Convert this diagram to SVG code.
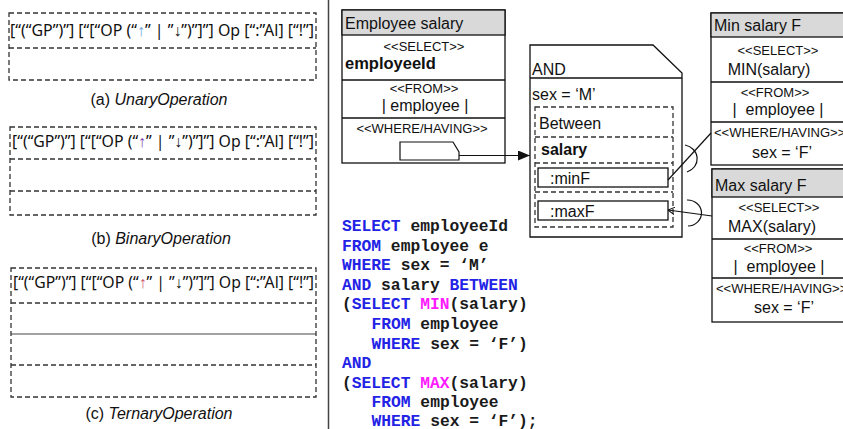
<svg xmlns="http://www.w3.org/2000/svg" width="843" height="429" viewBox="0 0 843 429">
  <style>
    .sans { font-family: "Liberation Sans", Arial, sans-serif; fill: #111; }
    .tmpl { font-family: "Noto Sans", "Liberation Sans", sans-serif; font-size: 16px; fill: #111; }
    .dash { fill: none; stroke: #333; stroke-width: 1.3; stroke-dasharray: 5 3; }
    .box { fill: #fff; stroke: #111; stroke-width: 1.3; }
    .head { fill: #d9d9d9; stroke: #111; stroke-width: 1.3; }
    .sep { stroke: #111; stroke-width: 1.3; }
    .stereo { font-size: 13px; text-anchor: middle; }
    .t16 { font-size: 16px; }
    .code { font-family: "Liberation Mono", "Courier New", monospace; font-weight: bold; font-size: 16.3px; fill: #1a1a1a; }
    .kw { fill: #2323e6; }
    .fn { fill: #ff1aff; }
    .wire { fill: none; stroke: #111; stroke-width: 1.2; }
  </style>
  <defs>
    <marker id="arrow" markerWidth="12" markerHeight="10" refX="12" refY="5" orient="auto" markerUnits="userSpaceOnUse">
      <path d="M0,0 L12,5 L0,10 Z" fill="#111"/>
    </marker>
    <marker id="open" markerWidth="7" markerHeight="8" refX="7" refY="4" orient="auto" markerUnits="userSpaceOnUse">
      <path d="M0,0 L7,4 L0,8" fill="none" stroke="#111" stroke-width="1"/>
    </marker>
  </defs>

  <rect width="843" height="429" fill="#fff"/>

  <!-- (a) unary operation template -->
  <g id="unary-operation">
    <rect x="9" y="13" width="307" height="67" class="dash"/>
    <line x1="9" y1="48" x2="316" y2="48" class="dash"/>
    <text x="10" y="36" class="tmpl" textLength="304" lengthAdjust="spacingAndGlyphs">[“(“GP”)”] [“[“OP (“<tspan fill="#6a9fd8">↑</tspan>” | ”↓”)”]”] Op [“:”Al] [“!”]</text>
    <text x="159" y="105" class="sans t16" text-anchor="middle">(a) <tspan font-style="italic">UnaryOperation</tspan></text>
  </g>

  <!-- (b) binary operation template -->
  <g id="binary-operation">
    <rect x="10" y="127" width="306" height="88" class="dash"/>
    <line x1="10" y1="159" x2="316" y2="159" class="dash"/>
    <line x1="10" y1="191" x2="316" y2="191" class="dash"/>
    <text x="12" y="147" class="tmpl" textLength="302" lengthAdjust="spacingAndGlyphs">[“(“GP”)”] [“[“OP (“<tspan fill="#7b3fb0">↑</tspan>” | ”↓”)”]”] Op [“:”Al] [“!”]</text>
    <text x="161" y="244" class="sans t16" text-anchor="middle">(b) <tspan font-style="italic">BinaryOperation</tspan></text>
  </g>

  <!-- (c) ternary operation template -->
  <g id="ternary-operation">
    <rect x="11" y="268" width="305" height="129" class="dash"/>
    <line x1="11" y1="303" x2="316" y2="303" class="dash"/>
    <line x1="11" y1="334" x2="316" y2="334" stroke="#444" stroke-width="1.1"/>
    <line x1="11" y1="365" x2="316" y2="365" class="dash"/>
    <text x="13" y="288" class="tmpl" textLength="301" lengthAdjust="spacingAndGlyphs">[“(“GP”)”] [“[“OP (“<tspan fill="#c8556a">↑</tspan>” | ”↓”)”]”] Op [“:”Al] [“!”]</text>
    <text x="159" y="419" class="sans t16" text-anchor="middle">(c) <tspan font-style="italic">TernaryOperation</tspan></text>
  </g>

  <!-- panel divider -->
  <line x1="328.5" y1="0" x2="328.5" y2="429" stroke="#444" stroke-width="1.5"/>

  <!-- main query block -->
  <g id="employee-salary">
    <rect x="342" y="10" width="163" height="153" class="box"/>
    <rect x="342" y="10" width="163" height="25" class="head"/>
    <line x1="342" y1="80" x2="505" y2="80" class="sep"/>
    <line x1="342" y1="118" x2="505" y2="118" class="sep"/>
    <text x="345" y="29" class="sans t16">Employee salary</text>
    <text x="424" y="51" class="sans stereo">&lt;&lt;SELECT&gt;&gt;</text>
    <text x="345" y="69" class="sans" font-size="16.5" font-weight="bold">employeeId</text>
    <text x="424" y="93" class="sans stereo">&lt;&lt;FROM&gt;&gt;</text>
    <text x="425" y="111" class="sans t16" text-anchor="middle">| employee |</text>
    <text x="422" y="133" class="sans stereo">&lt;&lt;WHERE/HAVING&gt;&gt;</text>
    <path d="M400,142 H453 L459,152 V160 H400 Z" fill="#fff" stroke="#111" stroke-width="1.2"/>
  </g>

  <!-- AND condition block -->
  <g id="and-condition">
    <path d="M530,45 H653 L682,73 V237 H530 Z" class="box"/>
    <line x1="530" y1="78" x2="682" y2="78" class="sep"/>
    <text x="532" y="75" class="sans t16">AND</text>
    <text x="532" y="100" class="sans t16">sex = ‘M’</text>
    <rect x="535" y="107" width="138" height="120" class="dash"/>
    <line x1="535" y1="137" x2="673" y2="137" class="dash"/>
    <line x1="535" y1="163" x2="673" y2="163" class="dash"/>
    <line x1="535" y1="192" x2="673" y2="192" class="dash"/>
    <text x="539" y="129" class="sans t16" fill="#333">Between</text>
    <text x="541" y="155" class="sans t16" font-weight="bold">salary</text>
    <rect x="538" y="168" width="130" height="19" class="box"/>
    <text x="550" y="184" class="sans t16">:minF</text>
    <rect x="538" y="201" width="130" height="19" class="box"/>
    <text x="550" y="217" class="sans t16">:maxF</text>
  </g>

  <!-- MIN sub-query -->
  <g id="min-salary-f">
    <rect x="711" y="13" width="150" height="152" class="box"/>
    <rect x="711" y="13" width="150" height="24" class="head"/>
    <line x1="711" y1="82" x2="861" y2="82" class="sep"/>
    <line x1="711" y1="122" x2="861" y2="122" class="sep"/>
    <text x="714" y="31" class="sans t16">Min salary F</text>
    <text x="778" y="55" class="sans stereo">&lt;&lt;SELECT&gt;&gt;</text>
    <text x="769" y="75" class="sans t16" text-anchor="middle">MIN(salary)</text>
    <text x="775" y="97" class="sans stereo">&lt;&lt;FROM&gt;&gt;</text>
    <text x="778" y="115" class="sans t16" text-anchor="middle" xml:space="preserve">|  employee |</text>
    <text x="714" y="137" class="sans" font-size="13">&lt;&lt;WHERE/HAVING&gt;&gt;</text>
    <text x="782" y="158" class="sans t16" text-anchor="middle">sex = ‘F’</text>
  </g>

  <!-- MAX sub-query -->
  <g id="max-salary-f">
    <rect x="712" y="169" width="150" height="153" class="box"/>
    <rect x="712" y="169" width="150" height="28" class="head"/>
    <line x1="712" y1="239" x2="862" y2="239" class="sep"/>
    <line x1="712" y1="278" x2="862" y2="278" class="sep"/>
    <text x="715" y="191" class="sans t16">Max salary F</text>
    <text x="779" y="212" class="sans stereo">&lt;&lt;SELECT&gt;&gt;</text>
    <text x="772" y="232" class="sans t16" text-anchor="middle">MAX(salary)</text>
    <text x="778" y="253" class="sans stereo">&lt;&lt;FROM&gt;&gt;</text>
    <text x="779" y="272" class="sans t16" text-anchor="middle" xml:space="preserve">|  employee |</text>
    <text x="716" y="293" class="sans" font-size="13">&lt;&lt;WHERE/HAVING&gt;&gt;</text>
    <text x="784" y="313" class="sans t16" text-anchor="middle">sex = ‘F’</text>
  </g>

  <!-- connectors -->
  <g id="connectors">
    <line x1="459" y1="155.5" x2="530" y2="155.5" class="wire" marker-end="url(#arrow)"/>
    <line x1="668" y1="180" x2="711" y2="133" class="wire"/>
    <line x1="712" y1="216" x2="668" y2="210" class="wire" marker-end="url(#open)"/>
    <path d="M685,145 A15,14 0 0 1 687,172" class="wire"/>
    <path d="M687,200 A14,13 0 0 1 688,226" class="wire"/>
  </g>

  <!-- SQL listing -->
  <g id="sql-listing" class="code">
    <text x="342" y="231"><tspan class="kw">SELECT</tspan> employeeId</text>
    <text x="342" y="251"><tspan class="kw">FROM</tspan> employee e</text>
    <text x="342" y="270"><tspan class="kw">WHERE</tspan> sex = ‘M’</text>
    <text x="342" y="290"><tspan class="kw">AND</tspan> salary <tspan class="kw">BETWEEN</tspan></text>
    <text x="342" y="309">(<tspan class="kw">SELECT</tspan> <tspan class="fn">MIN</tspan>(salary)</text>
    <text x="371.5" y="329"><tspan class="kw">FROM</tspan> employee</text>
    <text x="371.5" y="349"><tspan class="kw">WHERE</tspan> sex = ‘F’)</text>
    <text x="342" y="368"><tspan class="kw">AND</tspan></text>
    <text x="342" y="388">(<tspan class="kw">SELECT</tspan> <tspan class="fn">MAX</tspan>(salary)</text>
    <text x="371.5" y="407"><tspan class="kw">FROM</tspan> employee</text>
    <text x="371.5" y="426"><tspan class="kw">WHERE</tspan> sex = ‘F’);</text>
  </g>
</svg>
